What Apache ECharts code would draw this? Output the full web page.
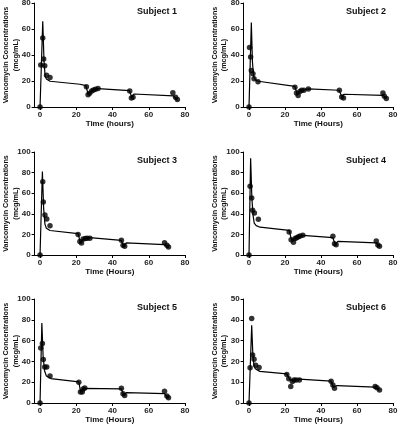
<!DOCTYPE html>
<html><head><meta charset="utf-8">
<script src="https://cdn.jsdelivr.net/npm/echarts@6/dist/echarts.min.js"></script>
<style>html,body{margin:0;padding:0;background:#fff}#c{width:400px;height:424px}</style>
</head><body><div id="c"></div>
<script>
// ---- data ----
const subjectNames = ['Subject 1','Subject 2','Subject 3','Subject 4','Subject 5','Subject 6'];
const xTitles = ['Time (hours)','Time (Hours)','Time (Hours)','Time (Hours)','Time (Hours)','Time (Hours)'];
const yTitleLines = ['Vancomycin Concentrations','(mcg/mL)'];
const xTicks = [0,20,40,60,80];
const yMaxes = [80,80,100,100,100,50];
const yIntervals = [20,20,20,20,20,10];

// observed points
const s1Time = [0,0.4,1.5,2,2.6,3.6,5.5,25.6,26.5,27.4,28.5,29.5,30.6,32,49.5,50.4,51.3,73.3,74.8,75.8];
const s1Conc = [0,32.3,53,37,31.7,24.5,22.7,15.5,9.5,10.5,12.3,13,13.6,14.2,12.4,7,7.5,11,7.5,5.7];
const s2Time = [0,0.3,0.9,1.3,2.2,2.8,5,25.5,26.4,27.3,28.3,29.2,30.5,33,50.2,51.5,52.5,74.4,75.2,76.3];
const s2Conc = [0,45.7,38.5,28,25.5,21.7,19.4,15.2,10.8,8.8,12,12.9,12.9,13.9,12.9,7.7,7,10.8,8.3,6.5];
const s3Time = [0,1.5,1.8,2.7,3.7,5.5,21,22,22.9,23.8,25,26,27.5,44.9,45.8,46.7,68.7,70,70.9];
const s3Conc = [0,71.2,51.5,38.8,35,28.5,20,13,11.7,15.5,15.9,16.2,16.2,14.2,9.4,8.4,12,9.4,7.8];
const s4Time = [0,0.6,1.5,2,3,5.2,22.3,23.4,24.7,25.6,26.5,27.5,28.4,29.9,46.6,47.5,48.4,70.7,71.6,72.5];
const s4Conc = [0,66.7,55.3,43.4,40.8,34.6,22.3,14.9,12.3,15.9,16.8,17.8,18.4,19.1,18.1,11,10,13.6,9.7,8.4];
const s5Time = [0,0.4,1.3,1.8,2.6,3.7,5.5,21.4,22.3,23.3,23.8,24.7,44.9,45.8,46.7,68.7,70,70.9];
const s5Conc = [0,53,57.2,41.8,34.7,34.7,26,19.9,10.6,10.6,13.5,14.5,14.1,9,7.1,11.3,6.8,5.1];
const s6Time = [0,0.6,1.5,2,2.8,3.7,5.6,21,22.1,23.2,24.1,25,26.2,28,45.6,46.6,47.5,70.1,71.1,72.5];
const s6Conc = [0,16.9,40.6,23.1,21,18.1,17.1,13.7,11.6,7.9,10.3,11.1,11.1,11.1,10.5,8.7,7.1,7.9,7.3,6.3];

// model fit curves
const f1Time = [0,1.5,2.2,2.8,3.5,5.5,22,25.3,26.5,27.5,29,32,49.3,50.6,51.8,73.6,75.8];
const f1Conc = [0,66,35,24,21.5,19.8,17.5,16.5,10,11,13,14.2,12.6,7.6,10,8.5,5];
const f2Time = [0,1.3,1.9,2.5,3.5,5.2,25.5,26.8,28.3,30,33,50,51.5,52.8,74.4,76.3];
const f2Conc = [0,65,35,24,21,19.8,15.8,9.5,12.5,13,13.9,12.9,8.3,9.8,9,6.5];
const f3Time = [0,1.3,2,2.7,3.5,5.5,21,22.3,23.8,25,27.5,44.9,46.2,47.6,68.7,70.9];
const f3Conc = [0,81,45,30,26,23.8,20.7,11.7,15.5,16.2,16.8,14.2,8.4,11.7,10,7.1];
const f4Time = [0,0.9,1.6,2.3,2.9,4,6.1,22.3,23.7,25.6,27.5,29.9,46.6,47.9,49.4,70.7,72.5];
const f4Conc = [0,94,55,38,31,28.5,27,24,14.2,16.5,18,19.1,16.8,10,13.3,11.7,7.8];
const f5Time = [0,1,1.7,2.5,3.5,6,21.4,22.3,23.9,24.7,44.9,46.2,47.6,68.7,70.9];
const f5Conc = [0,77,45,31,26,23.5,20.3,11.3,14.1,14.3,13.5,7.4,10,9,4.5];
const f6Time = [0,1.5,2.1,2.7,3.5,6,21,22.8,25,28,45.6,46.9,48.8,70.1,72.5];
const f6Conc = [0,37.4,24,18.5,16.5,15.2,14,11.1,11.2,11.5,10.5,7.6,8.4,7.6,6];

const obsTimes = [s1Time,s2Time,s3Time,s4Time,s5Time,s6Time];
const obsConcs = [s1Conc,s2Conc,s3Conc,s4Conc,s5Conc,s6Conc];
const fitTimes = [f1Time,f2Time,f3Time,f4Time,f5Time,f6Time];
const fitConcs = [f1Conc,f2Conc,f3Conc,f4Conc,f5Conc,f6Conc];

// ---- layout ----
const FONT = 'Liberation Sans, Arial, sans-serif';
const colLeft = [34.6, 243.6];
const colWidth = [150.4, 149.4];
const rowTop = [3, 152, 299];
const rowHeight = [104, 103, 104];
const yTitleX = [[6, 16.5], [215, 224.5]];
const zip = (a,b) => a.map((v,i)=>[v,b[i]]);

const grids=[], xAxes=[], yAxes=[], series=[], titles=[], graphics=[];
for (let i=0;i<6;i++){
  const col=i%2, row=Math.floor(i/2);
  grids.push({left:colLeft[col], top:rowTop[row], width:colWidth[col], height:rowHeight[row], containLabel:false, outerBoundsMode:'none'});
  xAxes.push({gridIndex:i, type:'value', min:-3, max:80,
    name:xTitles[i], nameLocation:'middle', nameGap:13,
    nameTextStyle:{fontFamily:FONT,fontSize:8,fontWeight:'bold',color:'#111'},
    axisLine:{onZero:false,lineStyle:{color:'#000',width:1}},
    axisTick:{show:true,length:3,customValues:xTicks,lineStyle:{color:'#000'}},
    axisLabel:{customValues:xTicks,margin:4,fontFamily:FONT,fontSize:8,fontWeight:'bold',color:'#222'},
    splitLine:{show:false}});
  yAxes.push({gridIndex:i, type:'value', min:0, max:yMaxes[i], interval:yIntervals[i],
    axisLine:{onZero:false,lineStyle:{color:'#000',width:1}},
    axisTick:{show:true,length:3,lineStyle:{color:'#000'}},
    axisLabel:{margin:4,fontFamily:FONT,fontSize:8,fontWeight:'bold',color:'#222'},
    splitLine:{show:false}});
  series.push({type:'line', xAxisIndex:i, yAxisIndex:i, data:zip(fitTimes[i],fitConcs[i]),
    symbol:'none', lineStyle:{color:'#000',width:1.2}, silent:true, z:2});
  series.push({type:'scatter', xAxisIndex:i, yAxisIndex:i, data:zip(obsTimes[i],obsConcs[i]),
    symbol:'circle', symbolSize:5.5, itemStyle:{color:'#000'}, z:3});
  titles.push({text:subjectNames[i], left:[152,361][col], top:rowTop[row]-1, textAlign:'center',
    textStyle:{fontFamily:FONT,fontSize:9,fontWeight:'bold',color:'#111'}});
  const cy = rowTop[row] + rowHeight[row]/2;
  yTitleLines.forEach((ln,k)=>{
    graphics.push({type:'text', x:yTitleX[col][k], y:cy, rotation:Math.PI/2,
      style:{text:ln, font:'bold 7.2px '+FONT, fill:'#111', align:'center', verticalAlign:'middle'}});
  });
}

const chart = echarts.init(document.getElementById('c'), null, {renderer:'canvas'});
chart.setOption({animation:false, backgroundColor:'#fff', title:titles, grid:grids, xAxis:xAxes, yAxis:yAxes, series:series, graphic:graphics});
</script></body></html>
